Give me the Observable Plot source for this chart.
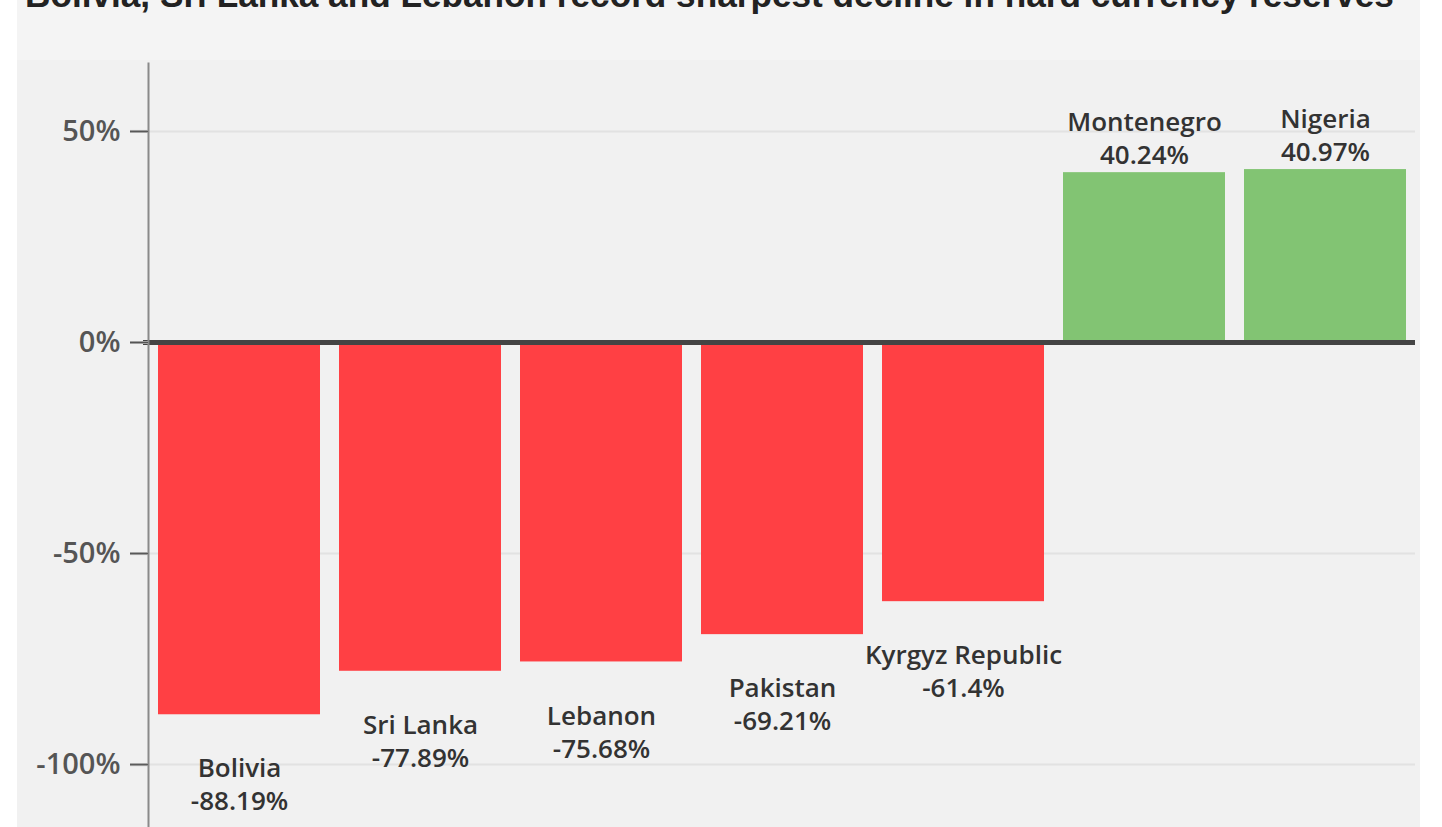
<!DOCTYPE html>
<html><head><meta charset="utf-8">
<script src="https://cdn.jsdelivr.net/npm/d3@7"></script>
<script src="https://cdn.jsdelivr.net/npm/@observablehq/plot@0.6"></script>
<style>
html,body{margin:0;padding:0;background:#fff;overflow:hidden;width:1442px;height:827px}
#panel{position:absolute;left:17px;top:0;width:1403px;height:827px;background:#f4f4f4;overflow:hidden}
#title{position:absolute;left:8px;top:-23px;margin:0;font:bold 35.2px "Liberation Sans",Arial,sans-serif;color:#222;white-space:nowrap;line-height:35px}
#chart{position:absolute;left:0;top:60px}
</style></head><body>
<div id="panel"><h1 id="title">Bolivia, Sri Lanka and Lebanon record sharpest decline in hard currency reserves</h1><div id="chart"></div></div>
<script>
const countries = ["Bolivia", "Sri Lanka", "Lebanon", "Pakistan", "Kyrgyz Republic", "Montenegro", "Nigeria"];
const values = [-88.19, -77.89, -75.68, -69.21, -61.4, 40.24, 40.97];
const valueLabels = ["-88.19%", "-77.89%", "-75.68%", "-69.21%", "-61.4%", "40.24%", "40.97%"];
const yTicks = [-100, -50, 0, 50];

const data = countries.map((c, i) => ({country: c, value: values[i], label: valueLabels[i]}));
const neg = data.filter(d => d.value < 0);
const pos = data.filter(d => d.value >= 0);
const txt = {fontSize: 26, fill: "#333", fontFamily: "'Open Sans', sans-serif", fontWeight: 600, lineHeight: 1.27,
  text: d => d.country + "\n" + d.label};

const chart = Plot.plot({
  width: 1403, height: 767,
  marginLeft: 131, marginRight: 5, marginTop: 3, marginBottom: 0,
  style: {background: "#f1f1f1", fontFamily: "'Open Sans', sans-serif", overflow: "visible"},
  x: {domain: countries, paddingInner: 0.105, paddingOuter: 0.0525, axis: null},
  y: {domain: [-114.9, 66.1], label: null, axis: null},
  marks: [
    Plot.gridY(yTicks.filter(t => t !== 0), {stroke: "#e2e2e2", strokeOpacity: 1, strokeWidth: 2}),
    Plot.barY(neg, {x: "country", y: "value", fill: "#ff4044"}),
    Plot.barY(pos, {x: "country", y: "value", fill: "#82c473"}),
    Plot.ruleY([0], {stroke: "#444", strokeWidth: 5, insetLeft: -5}),
    Plot.frame({anchor: "left", stroke: "#8a8a8a", strokeWidth: 2}),
    Plot.axisY(yTicks, {text: null, tickSize: 18, color: "#a0a0a0", strokeWidth: 3}),
    Plot.axisY(yTicks, {tick: null, tickSize: 18, tickPadding: 10, color: "#555", fontSize: 29, fontWeight: 600, letterSpacing: -0.3, tickFormat: d => d + "%"}),
    Plot.text(neg, {x: "country", y: "value", dy: 68.5, ...txt}),
    Plot.text(pos, {x: "country", y: "value", dy: -35.5, ...txt})
  ]
});
document.getElementById("chart").appendChild(chart);
</script>
</body></html>
